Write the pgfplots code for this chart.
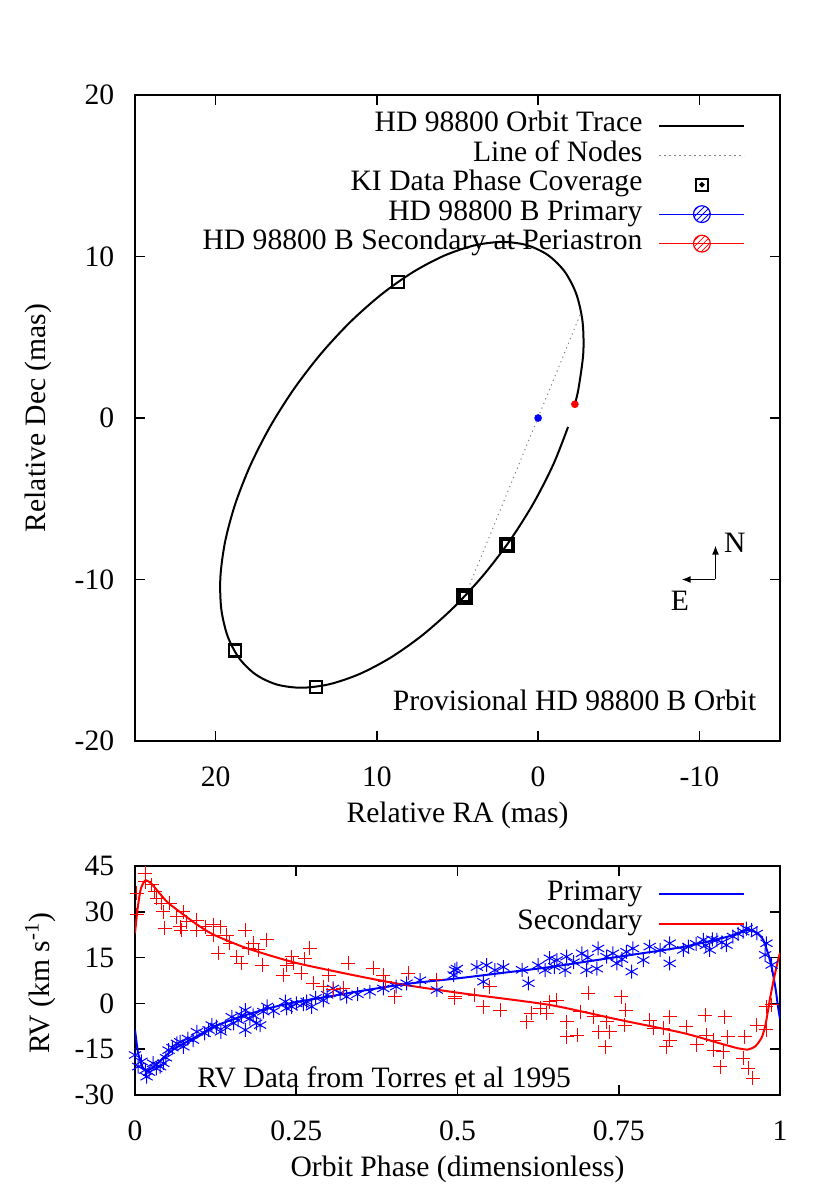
\documentclass[border=0pt]{standalone}
\usepackage{fontspec}
\setmainfont{Liberation Serif}
\usepackage{pgfplots}
\pgfplotsset{compat=1.18}
\usepackage{pgfplotstable}
\usetikzlibrary{patterns,arrows.meta}

\definecolor{gpblue}{RGB}{0,0,255}
\definecolor{gpred}{RGB}{255,0,0}

\pgfplotsset{
  gp/.style={
    scale only axis,
    tick align=inside,
    major tick length=5bp,
    axis line style={line width=0.8bp},
    every tick/.style={black,line width=0.8bp},
    /pgf/number format/assume math mode=true,
    xticklabel style={yshift=-8bp},
    yticklabel style={xshift=-5.3bp},
    legend plot pos=right,
    legend cell align=right,
    legend style={draw=none,fill=none,inner sep=0pt,column sep=7.5bp,row sep=0pt,
      nodes={inner sep=0.5bp,text height=10bp,text depth=3.75bp}},
  },
  lineimg/.style={legend image code/.code={\draw[##1] (0bp,0bp) -- (42.5bp,0bp);}},
  sqimg/.style={legend image code/.code={\draw[##1] plot coordinates {(21.25bp,0bp)};
    \fill[black] (21.25bp,0bp) circle (0.7bp);}},
  dotimg/.style={legend image code/.code={\draw[#1,line width=0.6bp] (0bp,0bp) -- (42.5bp,0bp);
    \draw[#1,line width=0.6bp,pattern=north east lines,pattern color=#1] (21.25bp,0bp) circle (4.2bp);}},
}

% orbit trace (RA, Dec in mas), from periastron round
\pgfplotstableread{
ra dec
-2.278 0.852
-2.512 1.862
-2.803 4.039
-2.751 6.005
-2.360 7.701
-1.639 9.075
-0.612 10.085
0.689 10.701
2.228 10.903
3.955 10.685
5.819 10.055
7.762 9.032
9.726 7.646
11.653 5.939
13.481 3.963
15.156 1.780
16.627 -0.545
17.851 -2.943
18.788 -5.340
19.412 -7.662
19.703 -9.839
19.651 -11.805
19.260 -13.501
18.539 -14.875
17.512 -15.885
16.211 -16.501
14.672 -16.703
12.945 -16.485
11.081 -15.855
9.138 -14.832
7.174 -13.446
5.247 -11.739
3.419 -9.763
1.744 -7.580
0.273 -5.255
-0.951 -2.857
-1.857 -0.556
}\orbit

% RV data, Torres et al 1995 (phase, km/s)
\pgfplotstableread{
ph rv
0.000 -16.9
0.005 -20.7
0.010 -19.0
0.016 -21.8
0.018 -24.0
0.022 -22.5
0.028 -19.6
0.033 -21.3
0.039 -20.7
0.044 -19.6
0.048 -17.8
0.052 -15.3
0.058 -14.5
0.065 -13.1
0.070 -12.6
0.075 -14.2
0.082 -11.5
0.090 -12.0
0.096 -9.3
0.108 -9.8
0.114 -8.7
0.119 -7.1
0.126 -7.6
0.133 -9.3
0.140 -7.6
0.150 -4.4
0.153 -6.5
0.160 -5.5
0.165 -3.9
0.171 -2.2
0.171 -8.7
0.178 -5.0
0.183 -3.9
0.188 -6.5
0.194 -7.1
0.199 -2.7
0.205 -1.0
0.215 -2.5
0.233 0.6
0.235 -1.6
0.243 -1.1
0.250 0.0
0.261 -0.2
0.266 0.6
0.274 -1.1
0.280 1.8
0.292 1.0
0.298 2.8
0.307 4.9
0.318 3.3
0.328 2.2
0.345 3.0
0.364 3.8
0.385 4.9
0.405 5.5
0.421 6.6
0.442 7.6
0.468 4.4
0.494 9.3
0.496 10.9
0.499 11.4
0.530 11.9
0.540 7.1
0.545 12.5
0.558 10.9
0.571 11.9
0.600 11.0
0.610 6.6
0.625 12.5
0.636 10.9
0.643 14.8
0.650 12.0
0.654 14.2
0.667 10.9
0.669 15.3
0.680 13.5
0.693 16.4
0.700 10.9
0.702 15.0
0.716 11.4
0.718 18.0
0.731 15.3
0.741 16.4
0.747 13.1
0.755 14.5
0.762 16.9
0.770 10.4
0.772 18.0
0.788 14.2
0.798 18.6
0.814 17.5
0.829 19.7
0.829 13.1
0.850 17.5
0.858 18.6
0.870 19.5
0.881 20.8
0.885 19.0
0.891 17.5
0.895 21.0
0.902 20.8
0.910 20.0
0.917 19.1
0.927 21.9
0.935 22.8
0.943 23.5
0.948 24.5
0.956 24.0
0.964 22.9
0.977 15.9
0.979 19.7
0.987 12.6
}\rvprim

\pgfplotstableread{
ph rv
0.003 36.1
0.003 29.0
0.016 42.6
0.016 39.9
0.026 38.8
0.031 36.6
0.034 34.4
0.041 32.8
0.044 30.1
0.046 24.6
0.054 32.8
0.065 28.4
0.070 25.1
0.072 24.0
0.075 30.1
0.080 26.8
0.096 27.3
0.096 24.0
0.109 25.1
0.121 25.7
0.121 22.4
0.129 16.4
0.132 25.1
0.142 22.4
0.147 19.7
0.158 15.3
0.165 13.1
0.171 24.0
0.176 18.1
0.183 19.7
0.191 17.5
0.197 12.5
0.204 20.8
0.230 9.3
0.235 12.5
0.243 15.3
0.245 13.1
0.258 9.8
0.263 14.7
0.271 18.1
0.276 6.6
0.292 5.5
0.300 9.3
0.307 4.4
0.323 4.9
0.331 13.1
0.369 11.5
0.385 9.3
0.388 7.1
0.403 2.2
0.424 9.9
0.467 7.7
0.496 1.7
0.496 2.2
0.527 2.7
0.540 -1.1
0.550 5.5
0.566 -2.2
0.607 -6.0
0.614 -3.3
0.628 -1.6
0.638 -3.3
0.643 0.5
0.654 1.1
0.669 -6.0
0.669 -10.9
0.686 -10.4
0.690 -2.7
0.703 3.3
0.711 -4.4
0.719 -9.3
0.729 -14.2
0.731 -6.0
0.736 -9.3
0.754 2.2
0.761 -2.2
0.759 -7.1
0.798 -5.5
0.804 -8.2
0.819 -8.2
0.824 -14.2
0.829 -4.4
0.829 -12.0
0.855 -7.7
0.871 -13.6
0.884 -3.8
0.886 -10.4
0.897 -15.3
0.897 -12.0
0.907 -20.7
0.914 -4.4
0.912 -15.9
0.919 -10.9
0.943 -18.0
0.945 -10.9
0.951 -21.3
0.958 -24.5
0.964 -7.1
0.979 -8.7
0.979 -1.1
0.987 -0.5
}\rvsec

\begin{document}
\fontsize{14.8bp}{17bp}\selectfont
\begin{tikzpicture}
\path[use as bounding box] (0,0) rectangle (415bp,593bp);

% ---- orbit on the sky
\begin{axis}[gp,
  at={(67.5bp,222.5bp)}, anchor=south west,
  width=322.5bp, height=323bp,
  x dir=reverse, xmin=-15, xmax=25, ymin=-20, ymax=20,
  xtick={-10,0,10,20}, ytick={-20,-10,0,10,20},
  xlabel={Relative RA (mas)}, ylabel={Relative Dec (mas)},
  x label style={at={(axis description cs:0.5,-0.1146)},anchor=center},
  y label style={at={(axis description cs:-0.150,0.5)},anchor=center},
  legend style={at={(axis description cs:0.947,0.976)},anchor=north east},
]
\addplot[black,line width=1bp,smooth,lineimg] table[x=ra,y=dec] {\orbit};
\addlegendentry{HD 98800 Orbit Trace}
\addplot[gray,line width=0.5bp,dash pattern=on 0.6bp off 1.9bp,lineimg] coordinates {
  (-2.60,6.38) (4.40,-10.70)};
\addlegendentry{Line of Nodes}
\addplot[only marks,mark=square,mark size=3bp,black,line width=1.1bp,sqimg] coordinates {
  (8.70,8.40) (18.82,-14.40) (13.77,-16.64)};
\addlegendentry{KI Data Phase Coverage}
\addplot[only marks,mark=square,mark size=3bp,black,line width=2.2bp,forget plot] coordinates {
  (4.57,-11.05) (1.93,-7.85)};
\addplot[only marks,mark=*,mark size=1.7bp,gpblue,dotimg=gpblue] coordinates {(0,0)};
\addlegendentry{HD 98800 B Primary}
\addplot[only marks,mark=*,mark size=1.7bp,gpred,dotimg=gpred] coordinates {(-2.28,0.85)};
\addlegendentry{HD 98800 B Secondary at Periastron}
\draw[-{Latex[length=4.5bp,width=3.5bp]},line width=0.7bp] (axis cs:-11,-10) -- (axis cs:-11,-7.9);
\draw[-{Latex[length=4.5bp,width=3.5bp]},line width=0.7bp] (axis cs:-11,-10) -- (axis cs:-8.9,-10);
\node at (axis cs:-12.2,-7.7) {N};
\node at (axis cs:-8.8,-11.3) {E};
\node[anchor=east,inner sep=0pt] at (axis description cs:0.964,0.0635) {Provisional HD 98800 B Orbit};
\end{axis}

% ---- radial velocities
\begin{axis}[gp,
  at={(67.5bp,45.5bp)}, anchor=south west,
  width=322.5bp, height=114.5bp,
  xmin=0, xmax=1, ymin=-30, ymax=45,
  xtick={0,0.25,0.5,0.75,1}, ytick={-30,-15,0,15,30,45},
  xlabel={Orbit Phase (dimensionless)}, ylabel={RV (km s\textsuperscript{-1})},
  x label style={at={(axis description cs:0.5,-0.325)},anchor=center},
  y label style={at={(axis description cs:-0.147,0.489)},anchor=center},
  legend style={at={(axis description cs:0.947,0.943)},anchor=north east},
]
\addplot[only marks,mark=asterisk,mark size=3.5bp,gpblue,line width=0.5bp,forget plot]
  table[x=ph,y=rv] {\rvprim};
\addplot[only marks,mark=+,mark size=3.5bp,gpred,line width=0.5bp,forget plot]
  table[x=ph,y=rv] {\rvsec};
\addplot[gpblue,line width=1bp,smooth,tension=0.4,lineimg] coordinates {
  (0,-8.7) (0.005,-16.5) (0.012,-21) (0.018,-22) (0.028,-21) (0.043,-18)
  (0.06,-15) (0.08,-12.6) (0.1,-10.3) (0.121,-7.7) (0.163,-4.4) (0.209,-1.5)
  (0.251,0.5) (0.302,2.3) (0.354,4.2) (0.421,6.4) (0.5,8.2) (0.57,10)
  (0.643,11.9) (0.747,15.2) (0.85,18.5) (0.918,21.8) (0.945,23.8) (0.955,24.0)
  (0.965,23) (0.974,20.8) (0.982,16) (0.987,11.9) (0.993,5) (0.997,-1.2) (1.0,-5)};
\addlegendentry{Primary}
\addplot[gpred,line width=1bp,smooth,tension=0.4,lineimg] coordinates {
  (0,23) (0.004,31) (0.009,37.5) (0.016,40.3) (0.025,39.3) (0.034,37.1)
  (0.05,33.2) (0.07,29.9) (0.095,26) (0.121,22.6) (0.173,18.1) (0.251,13.2)
  (0.354,8.6) (0.42,6) (0.504,3.4) (0.643,-0.5) (0.747,-5.2) (0.85,-9.7)
  (0.912,-13.4) (0.935,-14.7) (0.95,-15.1) (0.962,-14) (0.972,-11) (0.978,-6.5)
  (0.984,1) (0.99,7.5) (0.997,14.2) (1,16.5)};
\addlegendentry{Secondary}
\node[anchor=west,inner sep=0pt] at (axis description cs:0.096,0.079) {RV Data from Torres et al 1995};
\end{axis}
\end{tikzpicture}
\end{document}
